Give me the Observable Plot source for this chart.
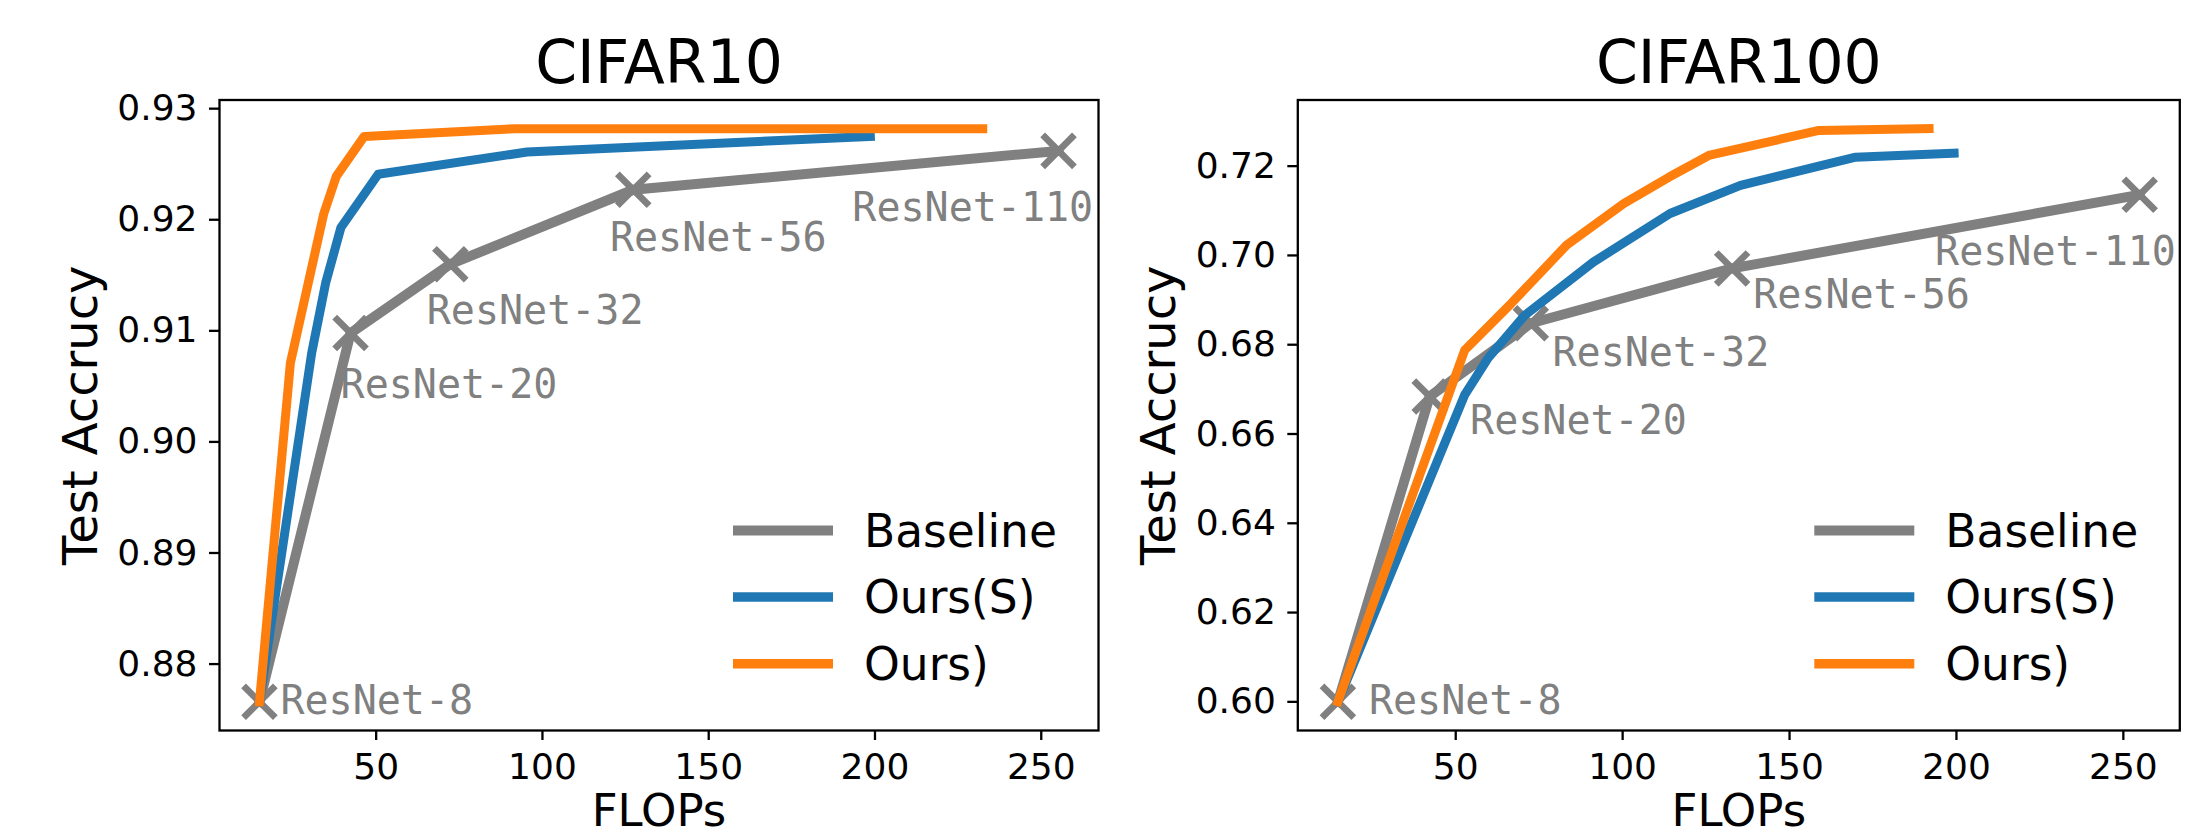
<!DOCTYPE html>
<html><head><meta charset="utf-8">
<script src="https://cdn.jsdelivr.net/npm/d3@7"></script>
<script src="https://cdn.jsdelivr.net/npm/@observablehq/plot@0.6"></script>
<style>
html,body{margin:0;padding:0;background:#fff;}
#wrap{position:relative;width:2196px;height:837px;overflow:hidden;background:#fff;}
#wrap svg{position:absolute;top:0;}
</style></head><body><div id="wrap"></div>
<script>
// ---------- data ----------
const models = ["ResNet-8", "ResNet-20", "ResNet-32", "ResNet-56", "ResNet-110"];
const seriesNames = ["Baseline", "Ours(S)", "Ours)"];
const seriesColors = ["#808080", "#1f77b4", "#ff7f0e"];

// CIFAR10
const c10BaseFlops = [14.9, 42.3, 72.3, 127.3, 255.2];
const c10BaseAcc   = [0.8766, 0.9098, 0.9160, 0.9227, 0.9262];
const c10OursSFlops = [14.9, 30.6, 34.8, 39.4, 50.6, 95.4, 198.6];
const c10OursSAcc   = [0.8766, 0.9080, 0.9143, 0.9193, 0.9241, 0.9261, 0.9275];
const c10OursFlops  = [14.9, 24.2, 34.2, 38.0, 46.4, 91.8, 232.4];
const c10OursAcc    = [0.8766, 0.9071, 0.9205, 0.9239, 0.9275, 0.9282, 0.9282];
const c10LabelFlops = [21.2, 39.3, 65.2, 120.3, 193.2];
const c10LabelAcc   = [0.87665, 0.90507, 0.91178, 0.91836, 0.92102];
const c10YTicks = [0.88, 0.89, 0.90, 0.91, 0.92, 0.93];

// CIFAR100
const c100BaseFlops = [14.7, 42.2, 72.5, 132.8, 254.9];
const c100BaseAcc   = [0.600, 0.6684, 0.6848, 0.6971, 0.7136];
const c100OursSFlops = [14.7, 52.7, 59.7, 70.7, 91.2, 114.2, 135.3, 169.8, 199.3];
const c100OursSAcc   = [0.600, 0.6688, 0.6770, 0.6866, 0.6985, 0.7094, 0.7157, 0.7220, 0.7229];
const c100OursFlops  = [14.7, 52.7, 66.7, 83.2, 100.3, 113.8, 125.8, 158.8, 191.8];
const c100OursAcc    = [0.600, 0.6788, 0.6893, 0.7023, 0.7116, 0.7175, 0.7224, 0.7280, 0.7284];
const c100LabelFlops = [24.0, 54.3, 79.0, 139.1, 193.6];
const c100LabelAcc   = [0.6002, 0.6628, 0.6781, 0.6911, 0.7008];
const c100YTicks = [0.60, 0.62, 0.64, 0.66, 0.68, 0.70, 0.72];

const xTicks = [50, 100, 150, 200, 250];

// ---------- helpers ----------
const zip = (xs, ys, extra = {}) => xs.map((x, i) => ({x, y: ys[i], ...extra}));
function padded(vals) {
  const [a, b] = d3.extent(vals);
  const p = (b - a) * 0.05;
  return [a - p, b + p];
}

function legendMark() {
  return (index, scales, values, dims) => {
    const g = d3.create("svg:g");
    const x0 = dims.width - dims.marginRight - 365;
    seriesNames.forEach((name, i) => {
      const y = dims.marginTop + 431 + i * 66.6;
      g.append("line").attr("x1", x0).attr("x2", x0 + 100).attr("y1", y).attr("y2", y)
        .attr("stroke", seriesColors[i]).attr("stroke-width", i === 0 ? 10 : 9.5);
      g.append("text").attr("x", x0 + 131).attr("y", y).attr("dy", "0.36em")
        .attr("text-anchor", "start")
        .attr("font-size", 45.5).attr("fill", "black").attr("font-family", "DejaVu Sans").text(name);
    });
    return g.node();
  };
}

function panel(cfg) {
  const base = zip(cfg.baseF, cfg.baseA);
  const oursS = zip(cfg.sF, cfg.sA);
  const ours = zip(cfg.oF, cfg.oA);
  const labels = models.map((m, i) => ({x: cfg.lF[i], y: cfg.lA[i], name: m}));
  const allF = [...cfg.baseF, ...cfg.sF, ...cfg.oF];
  const allA = [...cfg.baseA, ...cfg.sA, ...cfg.oA];
  const svg = Plot.plot({
    width: cfg.width,
    height: 837,
    marginLeft: cfg.ml,
    marginRight: cfg.mr,
    marginTop: 99.5,
    marginBottom: 107,
    style: {fontFamily: "DejaVu Sans", background: "white", color: "black", overflow: "visible"},
    x: {domain: padded(allF)},
    y: {domain: padded(allA)},
    marks: [
      Plot.axisX({ticks: xTicks, tickSize: 10, tickPadding: 13, fontSize: 36, strokeWidth: 2.3, label: null, tickFormat: d3.format("d")}),
      Plot.axisY({ticks: cfg.yTicks, tickSize: 10, tickPadding: 12, fontSize: 36, strokeWidth: 2.3, label: null, tickFormat: d3.format(".2f")}),
      Plot.line(base, {x: "x", y: "y", stroke: seriesColors[0], strokeWidth: 10, strokeLinejoin: "round", strokeLinecap: "square"}),
      Plot.dot(base, {x: "x", y: "y", symbol: "times", r: 14.5, stroke: seriesColors[0], strokeWidth: 6.7, strokeLinecap: "butt"}),
      Plot.line(oursS, {x: "x", y: "y", stroke: seriesColors[1], strokeWidth: 9, strokeLinejoin: "round", strokeLinecap: "square"}),
      Plot.line(ours, {x: "x", y: "y", stroke: seriesColors[2], strokeWidth: 9, strokeLinejoin: "round", strokeLinecap: "square"}),
      Plot.text(labels, {x: "x", y: "y", text: "name", textAnchor: "start", lineAnchor: "middle",
        fontFamily: "DejaVu Sans Mono", fontSize: 40, fill: "#808080"}),
      Plot.frame({stroke: "black", strokeWidth: 2.3}),
      Plot.text([cfg.title], {text: d => d, frameAnchor: "top", dy: -17, lineAnchor: "bottom", fontSize: 60, fill: "black"}),
      Plot.text(["FLOPs"], {text: d => d, frameAnchor: "bottom", dy: 95, lineAnchor: "bottom", fontSize: 45, fill: "black"}),
      Plot.text(["Test Accrucy"], {text: d => d, frameAnchor: "left", dx: -123, rotate: -90, textAnchor: "middle", lineAnchor: "bottom", fontSize: 48, fill: "black"}),
      legendMark()
    ]
  });
  svg.style.left = cfg.left + "px";
  return svg;
}

const wrap = document.getElementById("wrap");
wrap.appendChild(panel({
  title: "CIFAR10", left: 0, width: 1110, ml: 219, mr: 12,
  baseF: c10BaseFlops, baseA: c10BaseAcc, sF: c10OursSFlops, sA: c10OursSAcc,
  oF: c10OursFlops, oA: c10OursAcc, lF: c10LabelFlops, lA: c10LabelAcc, yTicks: c10YTicks
}));
wrap.appendChild(panel({
  title: "CIFAR100", left: 1110, width: 1086, ml: 187.3, mr: 16.7,
  baseF: c100BaseFlops, baseA: c100BaseAcc, sF: c100OursSFlops, sA: c100OursSAcc,
  oF: c100OursFlops, oA: c100OursAcc, lF: c100LabelFlops, lA: c100LabelAcc, yTicks: c100YTicks
}));
</script></body></html>
